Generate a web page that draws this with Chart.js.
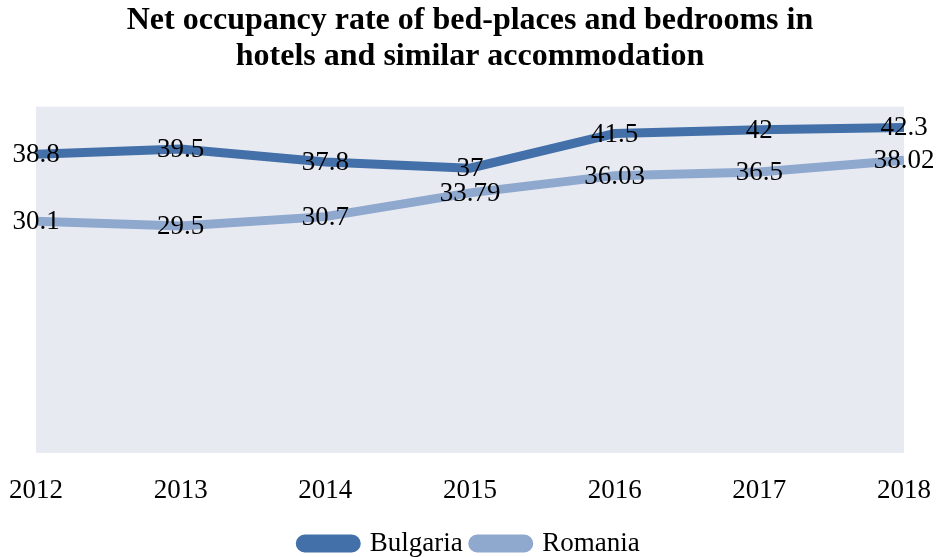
<!DOCTYPE html>
<html>
<head>
<meta charset="utf-8">
<script src="https://cdn.jsdelivr.net/npm/chart.js@4"></script>
<style>
  html, body { margin: 0; padding: 0; background: #fff; }
  #wrap { width: 940px; height: 557px; }
</style>
</head>
<body>
<div id="wrap"><canvas id="chart"></canvas></div>
<script>
const years = ['2012', '2013', '2014', '2015', '2016', '2017', '2018'];
const bulgaria = [38.8, 39.5, 37.8, 37, 41.5, 42, 42.3];
const romania = [30.1, 29.5, 30.7, 33.79, 36.03, 36.5, 38.02];
const labelsBulgaria = ['38.8', '39.5', '37.8', '37', '41.5', '42', '42.3'];
const labelsRomania = ['30.1', '29.5', '30.7', '33.79', '36.03', '36.5', '38.02'];

const serif = "'Liberation Serif', 'Times New Roman', serif";

// plot background
const plotBg = {
  id: 'plotBg',
  beforeDraw(chart) {
    const { ctx, chartArea: a } = chart;
    ctx.save();
    ctx.fillStyle = '#E8EAF2';
    ctx.fillRect(a.left, a.top, a.right - a.left, a.bottom - a.top);
    ctx.restore();
  }
};

// value labels centred on the points
const valueLabels = {
  id: 'valueLabels',
  afterDatasetsDraw(chart) {
    const { ctx } = chart;
    const texts = [labelsBulgaria, labelsRomania];
    ctx.save();
    ctx.font = '27px ' + serif;
    ctx.fillStyle = '#000';
    ctx.textAlign = 'center';
    ctx.textBaseline = 'middle';
    chart.data.datasets.forEach((ds, i) => {
      chart.getDatasetMeta(i).data.forEach((pt, j) => {
        ctx.fillText(texts[i][j], pt.x, pt.y + 1);
      });
    });
    ctx.restore();
  }
};

new Chart(document.getElementById('chart'), {
  type: 'line',
  data: {
    labels: years,
    datasets: [
      {
        label: 'Bulgaria',
        data: bulgaria,
        borderColor: '#4370A8',
        backgroundColor: '#4370A8',
        borderWidth: 9,
        pointRadius: 0,
        tension: 0,
        clip: 0
      },
      {
        label: 'Romania',
        data: romania,
        borderColor: '#8FA8CE',
        backgroundColor: '#8FA8CE',
        borderWidth: 9,
        pointRadius: 0,
        tension: 0,
        clip: 0
      }
    ]
  },
  options: {
    responsive: true,
    maintainAspectRatio: false,
    animation: false,
    layout: { padding: { left: 36, right: 36, top: 0, bottom: -10 } },
    plugins: {
      title: {
        display: true,
        text: ['Net occupancy rate of bed-places and bedrooms in', 'hotels and similar accommodation'],
        color: '#000',
        font: { family: serif, size: 32, weight: 'bold', lineHeight: 1.15 },
        padding: { top: 2, bottom: 31 }
      },
      legend: {
        position: 'bottom',
        labels: {
          color: '#000',
          font: { family: serif, size: 27 },
          boxWidth: 56,
          boxHeight: 9,
          useBorderRadius: true,
          borderRadius: 4.5,
          padding: 10
        }
      },
      tooltip: { enabled: false }
    },
    scales: {
      x: {
        offset: false,
        grid: { display: false },
        border: { display: false },
        afterFit(scale) {
          scale.paddingLeft = 0;
          scale.paddingRight = 0;
        },
        ticks: {
          color: '#000',
          font: { family: serif, size: 27, lineHeight: 1.3 },
          padding: 12,
          maxRotation: 0
        }
      },
      y: {
        display: false,
        min: 0,
        max: 45
      }
    }
  },
  plugins: [plotBg, valueLabels]
});
</script>
</body>
</html>
